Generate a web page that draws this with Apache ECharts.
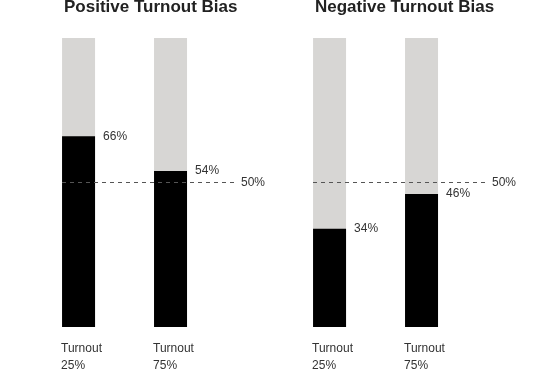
<!DOCTYPE html>
<html>
<head>
<meta charset="utf-8">
<script src="https://cdn.jsdelivr.net/npm/echarts@6/dist/echarts.min.js"></script>
<style>html,body{margin:0;padding:0;background:#fff}#c{width:537px;height:379px}</style>
</head>
<body>
<div id="c"></div>
<script>
const panelTitles = ['Positive Turnout Bias', 'Negative Turnout Bias'];
const categories = ['Turnout\n25%', 'Turnout\n75%'];
const positiveValues = [66, 54];
const negativeValues = [34, 46];
const fullValues = [100, 100];
const referenceLine = 50;

const font = 'Liberation Sans, Arial, sans-serif';
const chart = echarts.init(document.getElementById('c'));
const panels = [positiveValues, negativeValues];
const gridLefts = [62, 313];

const series = [];
panels.forEach((vals, p) => {
  series.push({
    type: 'bar', xAxisIndex: p, yAxisIndex: p, barWidth: 33, barGap: '-100%',
    itemStyle: { color: '#d7d6d4' }, silent: true,
    data: fullValues.map((v, i) => [i, v]),
    label: {
      show: true, position: [0, '100%'], offset: [-1, 13],
      align: 'left', verticalAlign: 'top', lineHeight: 17,
      fontFamily: font, fontSize: 12, color: '#333',
      formatter: (d) => categories[d.dataIndex]
    }
  });
  series.push({
    type: 'bar', xAxisIndex: p, yAxisIndex: p, barWidth: 33, barGap: '-100%',
    itemStyle: { color: '#000' }, silent: true,
    data: vals.map((v, i) => [i, v]),
    label: {
      show: true, position: ['100%', 0], offset: [8, 0],
      align: 'left', verticalAlign: 'middle',
      fontFamily: font, fontSize: 12, color: '#333',
      formatter: (d) => d.value[1] + '%'
    },
    markLine: {
      silent: true, symbol: 'none', z: 10,
      lineStyle: { color: '#555', type: [4, 4], width: 1 },
      label: { position: 'end', distance: 7, fontFamily: font, fontSize: 12, color: '#333', formatter: referenceLine + '%' },
      data: [{ yAxis: referenceLine }]
    }
  });
});

chart.setOption({
  animation: false,
  title: panelTitles.map((t, p) => ({
    text: t, left: gridLefts[p] + 2, top: -1, padding: 0,
    textStyle: { fontFamily: font, fontSize: 17, fontWeight: 'bold', color: '#222' }
  })),
  grid: gridLefts.map(l => ({ left: l, top: 38, width: 172, height: 289 })),
  xAxis: gridLefts.map((l, p) => ({ type: 'value', gridIndex: p, min: -0.18, max: 1.69, show: false })),
  yAxis: gridLefts.map((l, p) => ({ type: 'value', gridIndex: p, min: 0, max: 100, show: false })),
  series: series
});
</script>
</body>
</html>
